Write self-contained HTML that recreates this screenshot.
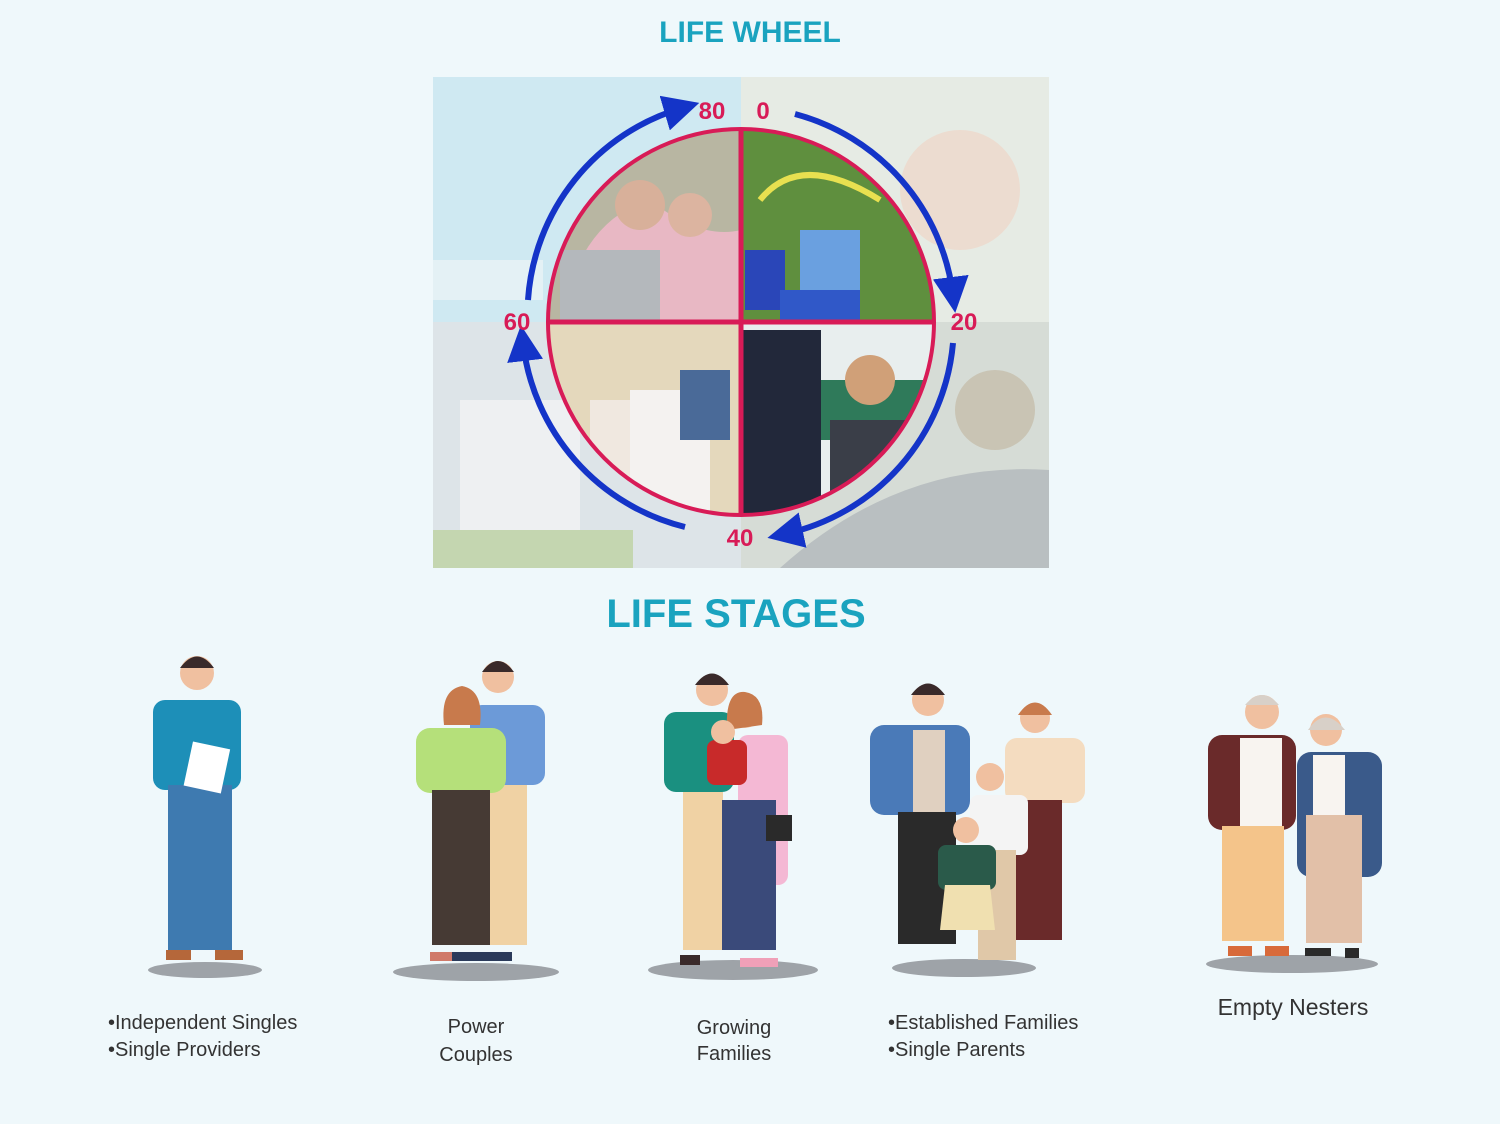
<!DOCTYPE html>
<html><head><meta charset="utf-8"><style>
body{margin:0;width:1500px;height:1124px;background:#eff8fb;font-family:"Liberation Sans",sans-serif;overflow:hidden;position:relative}
.t{position:absolute;color:#1aa3bf;font-weight:bold;text-align:center}
.lbl{position:absolute;font-size:20px;color:#333;line-height:27px}
</style></head><body>
<div class="t" style="left:600px;top:16px;width:300px;font-size:30px">LIFE WHEEL</div>
<div class="t" style="left:536px;top:592px;width:400px;font-size:40px">LIFE STAGES</div>
<svg width="1500" height="1124" style="position:absolute;left:0;top:0">
<defs>
<clipPath id="c"><ellipse cx="741" cy="322" rx="193" ry="193"/></clipPath>
<marker id="a" markerWidth="6" markerHeight="6" refX="3" refY="3" orient="auto" markerUnits="strokeWidth"><path d="M0,0 L6,3 L0,6z" fill="#1434c8"/></marker>
</defs>
<rect x="433" y="77" width="308" height="245" fill="#cfe9f2"/>
<rect x="741" y="77" width="308" height="245" fill="#e6ebe4"/>
<rect x="433" y="322" width="308" height="246" fill="#dde4e8"/>
<rect x="741" y="322" width="308" height="246" fill="#d6dcd6"/>
<rect x="433" y="260" width="110" height="40" fill="#e4f1f5"/>
<rect x="460" y="400" width="120" height="130" fill="#eef0f2"/>
<rect x="433" y="530" width="200" height="38" fill="#c4d6b0"/>
<circle cx="960" cy="190" r="60" fill="#ecdcd0"/>
<circle cx="995" cy="410" r="40" fill="#c9c4b4"/>
<path d="M780,568 Q900,460 1049,470 L1049,568z" fill="#b9bfc1"/>
<g clip-path="url(#c)">
<rect x="548" y="129" width="193" height="193" fill="#b8b6a2"/>
<path d="M560,322 Q580,220 650,200 Q700,240 741,230 L741,322z" fill="#e8b8c4"/>
<rect x="560" y="250" width="100" height="72" fill="#b4b8bc"/>
<circle cx="640" cy="205" r="25" fill="#d8b09a"/><circle cx="690" cy="215" r="22" fill="#dcb4a0"/>
<rect x="741" y="129" width="194" height="193" fill="#5f8f3e"/>
<rect x="800" y="230" width="60" height="60" fill="#6aa0e0"/><rect x="745" y="250" width="40" height="60" fill="#2a46b8"/>
<rect x="780" y="290" width="80" height="32" fill="#3058c8"/>
<path d="M760,200 Q800,150 880,200" stroke="#e8e050" stroke-width="6" fill="none"/>
<rect x="548" y="322" width="193" height="193" fill="#e4d8bc"/>
<rect x="630" y="390" width="80" height="125" fill="#f4f2f0"/><rect x="590" y="400" width="40" height="115" fill="#f0e8e0"/>
<rect x="680" y="370" width="50" height="70" fill="#4a6a98"/>
<rect x="741" y="322" width="194" height="193" fill="#e8eeee"/>
<rect x="790" y="380" width="145" height="60" fill="#2f7a5a"/>
<rect x="741" y="330" width="80" height="185" fill="#22283a"/>
<rect x="830" y="420" width="100" height="95" fill="#3a3e48"/>
<circle cx="870" cy="380" r="25" fill="#d0a078"/>
</g>
<ellipse cx="741" cy="322" rx="193" ry="193" fill="none" stroke="#d81b57" stroke-width="4"/>
<line x1="741" y1="129" x2="741" y2="515" stroke="#d81b57" stroke-width="5"/>
<line x1="548" y1="322" x2="935" y2="322" stroke="#d81b57" stroke-width="5"/>
<g fill="none" stroke="#1434c8" stroke-width="6">
<path d="M795,114 A215,215 0 0 1 953,295" marker-end="url(#a)"/>
<path d="M953,343 A215,215 0 0 1 785,534" marker-end="url(#a)"/>
<path d="M685,527 A215,215 0 0 1 523,343" marker-end="url(#a)"/>
<path d="M528,300 A215,215 0 0 1 682,108" marker-end="url(#a)"/>
</g>
<g fill="#d81b57" font-weight="bold" font-size="24" font-family="Liberation Sans" text-anchor="middle">
<text x="712" y="119">80</text><text x="763" y="119">0</text>
<text x="517" y="330">60</text><text x="964" y="330">20</text><text x="740" y="546">40</text>
</g>
<g fill="#9ea3a8">
<ellipse cx="205" cy="970" rx="57" ry="8"/><ellipse cx="476" cy="972" rx="83" ry="9"/>
<ellipse cx="733" cy="970" rx="85" ry="10"/><ellipse cx="964" cy="968" rx="72" ry="9"/>
<ellipse cx="1292" cy="964" rx="86" ry="9"/>
</g>
<!-- fig1 -->
<g><circle cx="197" cy="673" r="17" fill="#f0c0a0"/><path d="M180,668 Q197,645 214,668" fill="#3a2a2a"/>
<rect x="153" y="700" width="88" height="90" rx="12" fill="#1d8fb8"/>
<rect x="168" y="785" width="64" height="165" fill="#3e7ab0"/>
<rect x="188" y="745" width="38" height="45" fill="#fff" transform="rotate(12 207 767)"/>
<rect x="166" y="950" width="25" height="10" fill="#b5673a"/><rect x="215" y="950" width="28" height="10" fill="#b5673a"/></g>
<!-- fig2 -->
<g><rect x="470" y="705" width="75" height="80" rx="12" fill="#6c9ad8"/><rect x="485" y="785" width="42" height="160" fill="#f0d2a4"/>
<circle cx="498" cy="677" r="16" fill="#f0c0a0"/><path d="M482,672 Q498,650 514,672" fill="#3a2a2a"/>
<circle cx="462" cy="705" r="16" fill="#f0c0a0"/><path d="M444,725 Q440,690 462,686 Q484,690 480,725" fill="#c87a4c"/>
<rect x="416" y="728" width="90" height="65" rx="14" fill="#b5e07a"/><rect x="432" y="790" width="58" height="155" fill="#463a34"/>
<rect x="430" y="952" width="24" height="9" fill="#d07a6a"/><rect x="452" y="952" width="60" height="9" fill="#2a3a5a"/></g>
<!-- fig3 -->
<g><circle cx="712" cy="690" r="16" fill="#f0c0a0"/><path d="M695,685 Q712,662 729,685" fill="#3a2a2a"/>
<rect x="664" y="712" width="70" height="80" rx="12" fill="#1a9080"/><rect x="683" y="792" width="40" height="158" fill="#f0d2a4"/>
<circle cx="745" cy="712" r="16" fill="#f0c0a0"/><path d="M727,730 Q725,690 745,692 Q765,695 762,725" fill="#c87a4c"/>
<rect x="738" y="735" width="50" height="150" rx="10" fill="#f4b8d4"/>
<rect x="722" y="800" width="54" height="150" fill="#3a4a7a"/>
<rect x="707" y="740" width="40" height="45" rx="8" fill="#c82a2a"/><circle cx="723" cy="732" r="12" fill="#f0c0a0"/>
<rect x="766" y="815" width="26" height="26" fill="#2a2a2a"/>
<rect x="680" y="955" width="20" height="10" fill="#3a2a2a"/><rect x="740" y="958" width="38" height="9" fill="#f0a0b8"/></g>
<!-- fig4 -->
<g><circle cx="928" cy="700" r="16" fill="#f0c0a0"/><path d="M911,695 Q928,672 945,695" fill="#3a2a2a"/>
<rect x="870" y="725" width="100" height="90" rx="14" fill="#4a7ab8"/><rect x="913" y="730" width="32" height="85" fill="#e0d0c0"/>
<rect x="898" y="812" width="58" height="132" fill="#2a2a2a"/>
<circle cx="1035" cy="718" r="15" fill="#f0c0a0"/><path d="M1018,715 Q1035,690 1052,715" fill="#c87a4c"/>
<rect x="1005" y="738" width="80" height="65" rx="12" fill="#f4dcc0"/><rect x="1012" y="800" width="50" height="140" fill="#6a2a2a"/>
<circle cx="990" cy="777" r="14" fill="#f0c0a0"/><rect x="970" y="795" width="58" height="60" rx="8" fill="#f4f4f4"/><rect x="978" y="850" width="38" height="110" fill="#e0c8a8"/>
<circle cx="966" cy="830" r="13" fill="#f0c0a0"/><rect x="938" y="845" width="58" height="45" rx="8" fill="#2a5a4a"/><path d="M945,885 L990,885 L995,930 L940,930z" fill="#f0e0b0"/></g>
<!-- fig5 -->
<g><circle cx="1262" cy="712" r="17" fill="#f0c0a0"/><path d="M1245,705 Q1262,685 1279,705" fill="#d8d0c8"/>
<rect x="1208" y="735" width="88" height="95" rx="14" fill="#6a2a2a"/><rect x="1240" y="738" width="42" height="90" fill="#f8f4f0"/>
<rect x="1222" y="826" width="62" height="115" fill="#f4c48a"/>
<circle cx="1326" cy="730" r="16" fill="#f0c0a0"/><path d="M1308,730 Q1325,705 1345,730" fill="#d8d0c8"/>
<rect x="1297" y="752" width="85" height="125" rx="14" fill="#3a5a8a"/><rect x="1313" y="755" width="32" height="65" fill="#f8f4f0"/>
<rect x="1306" y="815" width="56" height="128" fill="#e2c0a8"/>
<rect x="1228" y="946" width="24" height="10" fill="#d86a3a"/><rect x="1265" y="946" width="24" height="10" fill="#d86a3a"/>
<rect x="1305" y="948" width="26" height="8" fill="#2a2a2a"/><rect x="1345" y="948" width="14" height="10" fill="#2a2a2a"/></g>
</svg>
<div class="lbl" style="left:108px;top:1010px">•Independent Singles<br>•Single Providers</div>
<div class="lbl" style="left:416px;top:1013px;width:120px;text-align:center;line-height:28px">Power<br>Couples</div>
<div class="lbl" style="left:674px;top:1015px;width:120px;text-align:center;line-height:26px">Growing<br>Families</div>
<div class="lbl" style="left:888px;top:1010px">•Established Families<br>•Single Parents</div>
<div class="lbl" style="left:1193px;top:994px;width:200px;text-align:center;font-size:23px">Empty Nesters</div>
</body></html>
